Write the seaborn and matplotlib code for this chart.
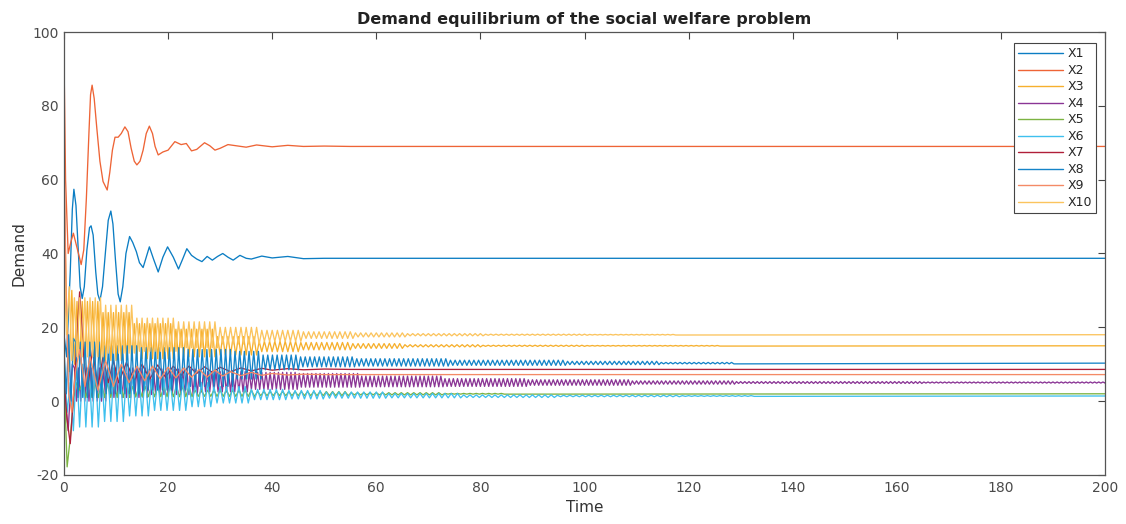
import numpy as np
import pandas as pd
import matplotlib
matplotlib.use("Agg")
import matplotlib.pyplot as plt
import seaborn as sns

# ---- data ----
series_names = ["X1", "X2", "X3", "X4", "X5", "X6", "X7", "X8", "X9", "X10"]
series_colors = ["#0b7dc3", "#ee6436", "#f6b02e", "#8a3595", "#7cb342",
                 "#3fc0ee", "#b01f39", "#1584c8", "#f48a66", "#fbc45e"]
t_end = 200

# slow series: knots (time, demand) along the curve
x1_time = [0, 0.5, 1.2, 1.6, 1.9, 2.3, 2.7, 3.1, 3.5, 3.9, 4.4, 4.9, 5.2, 5.6, 6.1,
           6.5, 6.9, 7.4, 8.0, 8.5, 9.0, 9.4, 9.9, 10.4, 10.8, 11.3, 11.9, 12.6, 13.2,
           13.9, 14.5, 15.2, 15.8, 16.4, 17.2, 18.1, 19.0, 19.9, 21.0, 22.0, 22.8,
           23.6, 24.5, 25.5, 26.5, 27.5, 28.5, 29.5, 30.5, 31.5, 32.5, 33.8, 35, 36,
           38, 40, 43, 46, 50]
x1_vals = [18, 12, 35, 52, 57.4, 53, 42, 31, 27.8, 31, 41, 47, 47.5, 45, 35,
           29, 27.2, 31, 41, 49, 51.5, 48, 38, 29, 26.9, 31, 40, 44.6, 43,
           40.5, 37.5, 36.2, 39, 41.8, 38.5, 35.0, 39, 41.8, 39, 35.8, 38.5,
           41.3, 39.5, 38.5, 37.8, 39.2, 38.2, 39.2, 40.0, 39.0, 38.2, 39.5, 38.7, 38.5,
           39.3, 38.8, 39.2, 38.6, 38.7]
x1_final = 38.7

x2_time = [0, 0.3, 0.8, 1.3, 1.8, 2.6, 3.3, 3.8, 4.3, 4.8, 5.1, 5.4, 5.8, 6.3, 6.9,
           7.5, 8.3, 8.8, 9.3, 9.8, 10.4, 11.0, 11.7, 12.3, 12.9, 13.5, 14.0, 14.6,
           15.2, 15.8, 16.4, 17.0, 17.5, 18.1, 19.0, 20.0, 21.3, 22.5, 23.5, 24.5,
           25.5, 27.0, 28.0, 29.0, 30.0, 31.5, 33, 35, 37, 40, 43, 46, 50, 55]
x2_vals = [93, 60, 40, 43, 45.5, 41, 37, 41, 55, 73, 83, 85.6, 82, 74, 65,
           59.5, 57.2, 62, 68, 71.5, 71.5, 72.5, 74.3, 73, 68.5, 65, 64, 65,
           68, 72.5, 74.5, 72.5, 69, 66.7, 67.5, 68, 70.3, 69.5, 69.8, 67.8,
           68.2, 70, 69.2, 68.0, 68.5, 69.5, 69.2, 68.8, 69.4, 68.9, 69.3, 69.0, 69.1, 69.0]
x2_final = 69.0

x7_time = [0, 0.6, 1.2, 2.0, 3.0, 3.8, 4.5, 5.5, 6.5, 7.5, 8.5, 9.5, 10.5, 12, 13.5,
           15, 16.5, 18, 19.5, 21, 22.5, 24, 25.5, 27, 28.5, 30, 32, 34, 36, 38, 40,
           43, 46, 50, 55, 60]
x7_vals = [6, -5, -11.5, 5, 29.6, 12, 3, 14, 4, 12, 5, 11, 5, 10.5, 5.5,
           10, 6, 9.8, 6.5, 9.5, 7, 9.5, 7.5, 9.3, 7.8, 9.2, 8.0, 9.0, 8.2, 8.9, 8.4,
           8.8, 8.5, 8.7, 8.6, 8.6]
x7_final = 8.6

x9_time = [0, 0.4, 0.9, 1.5, 2.2, 3.0, 4.0, 5.0, 6.5, 8, 9.5, 11, 12.5, 14, 15.5,
           17, 18.5, 20, 21.5, 23, 24.5, 26, 27.5, 29, 30.5, 32, 34, 36, 38, 40, 43,
           46, 50, 55]
x9_vals = [71, 30, 2, -3, 8, 14, 4, 12, 3, 11, 4, 10, 5, 9.5, 5.5,
           9.5, 6, 9.2, 6.3, 9.0, 6.5, 8.6, 6.5, 8.4, 6.8, 8.0, 6.9, 7.8, 7.0, 7.5, 7.1,
           7.3, 7.2, 7.2]
x9_final = 7.2

# fast oscillating series: peak / trough samples taken every `step` time units
x3_step = 0.5
x3_vals = ([59, 25, 8, 30, 10] + [27, 10] * 5 + [24, 11] * 6 + [21, 11.5] * 8
           + [19.5, 12] * 8 + [17.5, 12.5] * 8 + [16.2, 13.4] * 8 + [15.9, 13.9] * 10
           + [15.6, 14.3] * 10 + [15.3, 14.7] * 15 + [15.15, 14.85] * 20
           + [15.08, 14.92] * 26)
x3_final = 15.0

x10_step = 0.5
x10_vals = ([36, 18, 31, 11] + [28, 12] * 6 + [26, 13] * 6 + [22.5, 13.5] * 8
            + [21.5, 14.5] * 8 + [20, 15.5] * 8 + [19.2, 16.2] * 8 + [18.8, 17.0] * 10
            + [18.5, 17.4] * 10 + [18.3, 17.7] * 15 + [18.15, 17.85] * 20
            + [18.08, 17.92] * 17)
x10_final = 18.0

x8_step = 0.45
x8_vals = ([14, 2, 18, 0, 17] + [16, 1] * 6 + [15, 2] * 8 + [14.5, 3] * 10
           + [14, 4] * 10 + [13.5, 6] * 6 + [12.5, 8.5] * 8 + [12, 9.3] * 12
           + [11.5, 9.5] * 20 + [11.1, 9.7] * 25 + [10.8, 9.9] * 20 + [10.5, 10.1] * 16)
x8_final = 10.3

x4_step = 0.4
x4_vals = ([8, -2, -8, 2, 10] + [9, 0] * 8 + [9, 1] * 10 + [8.7, 1.8] * 12
           + [8, 2.5] * 12 + [7.8, 3.2] * 12 + [7.5, 3.8] * 15 + [6.8, 3.9] * 20
           + [6.1, 4.0] * 20 + [5.8, 4.3] * 25 + [5.5, 4.6] * 25 + [5.3, 4.8] * 45
           + [5.2, 4.9] * 44)
x4_final = 5.0

x6_step = 0.6
x6_vals = ([12, -3, 5, -8] + [10, -7] * 4 + [9, -5.5] * 4 + [7.5, -4] * 4
           + [6, -2.5] * 6 + [5, -1.5] * 4 + [4, -0.5] * 6 + [3.2, 0.4] * 6
           + [2.9, 0.6] * 6 + [2.5, 0.8] * 10 + [2.1, 0.9] * 12 + [1.7, 1.0] * 15
           + [1.6, 1.2] * 20 + [1.5, 1.3] * 12)
x6_final = 1.4

x5_step = 0.6
x5_vals = ([8, -17.8, -10, 0, 5, 3] + [5, 1] * 8 + [4, 1.2] * 10 + [3, 1.3] * 10
           + [2.6, 1.5] * 15 + [2.3, 1.7] * 15 + [2.1, 1.9] * 10)
x5_final = 2.0

# ---- assemble long-form table ----
frames = []


def add_knots(name, times, vals, final):
    t = list(times) + [t_end]
    v = list(vals) + [final]
    frames.append(pd.DataFrame({"Time": t, "Demand": v, "series": name}))


def add_samples(name, step, vals, final):
    t = list(np.arange(len(vals)) * step) + [t_end]
    v = list(vals) + [final]
    frames.append(pd.DataFrame({"Time": t, "Demand": v, "series": name}))


add_knots("X1", x1_time, x1_vals, x1_final)
add_knots("X2", x2_time, x2_vals, x2_final)
add_samples("X3", x3_step, x3_vals, x3_final)
add_samples("X4", x4_step, x4_vals, x4_final)
add_samples("X5", x5_step, x5_vals, x5_final)
add_samples("X6", x6_step, x6_vals, x6_final)
add_knots("X7", x7_time, x7_vals, x7_final)
add_samples("X8", x8_step, x8_vals, x8_final)
add_knots("X9", x9_time, x9_vals, x9_final)
add_samples("X10", x10_step, x10_vals, x10_final)
df = pd.concat(frames, ignore_index=True)

# ---- plot ----
sns.set_theme(style="white")
plt.rcParams["font.family"] = ["DejaVu Sans"]
plt.rcParams["axes.unicode_minus"] = False

fig = plt.figure(figsize=(11.26, 5.24), dpi=100)
ax = fig.add_axes([64 / 1126, 1 - 475 / 524, 1041 / 1126, 443 / 524])

sns.lineplot(data=df, x="Time", y="Demand", hue="series", hue_order=series_names,
             palette=series_colors, estimator=None, sort=False, linewidth=0.95, ax=ax)

ax.set_xlim(0, 200)
ax.set_ylim(-20, 100)
ax.set_xticks(range(0, 201, 20))
ax.set_yticks(range(-20, 101, 20))
ax.tick_params(direction="in", top=True, right=True, length=5, width=0.8,
               color="#444444", labelcolor="#4a4a4a", labelsize=10, pad=4)
for s in ax.spines.values():
    s.set_color("#555555")
    s.set_linewidth(0.9)

ax.set_title("Demand equilibrium of the social welfare problem",
             fontsize=11.5, fontweight="bold", color="#222222", pad=6)
ax.set_xlabel("Time", fontsize=11, color="#333333", labelpad=4)
ax.set_ylabel("Demand", fontsize=11, color="#333333", labelpad=4)

handles, labels = ax.get_legend_handles_labels()
leg = ax.legend(handles, labels, loc="upper right",
                bbox_to_anchor=(1 - 9 / 1041, 1 - 11 / 443), borderaxespad=0,
                fontsize=9, frameon=True, fancybox=False, framealpha=1,
                handlelength=3.6, handletextpad=0.3, labelspacing=0.28,
                borderpad=0.35, edgecolor="#444444")
leg.get_frame().set_linewidth(0.8)
for line in leg.get_lines():
    line.set_linewidth(1.0)

fig.savefig("out.png", dpi=100)
